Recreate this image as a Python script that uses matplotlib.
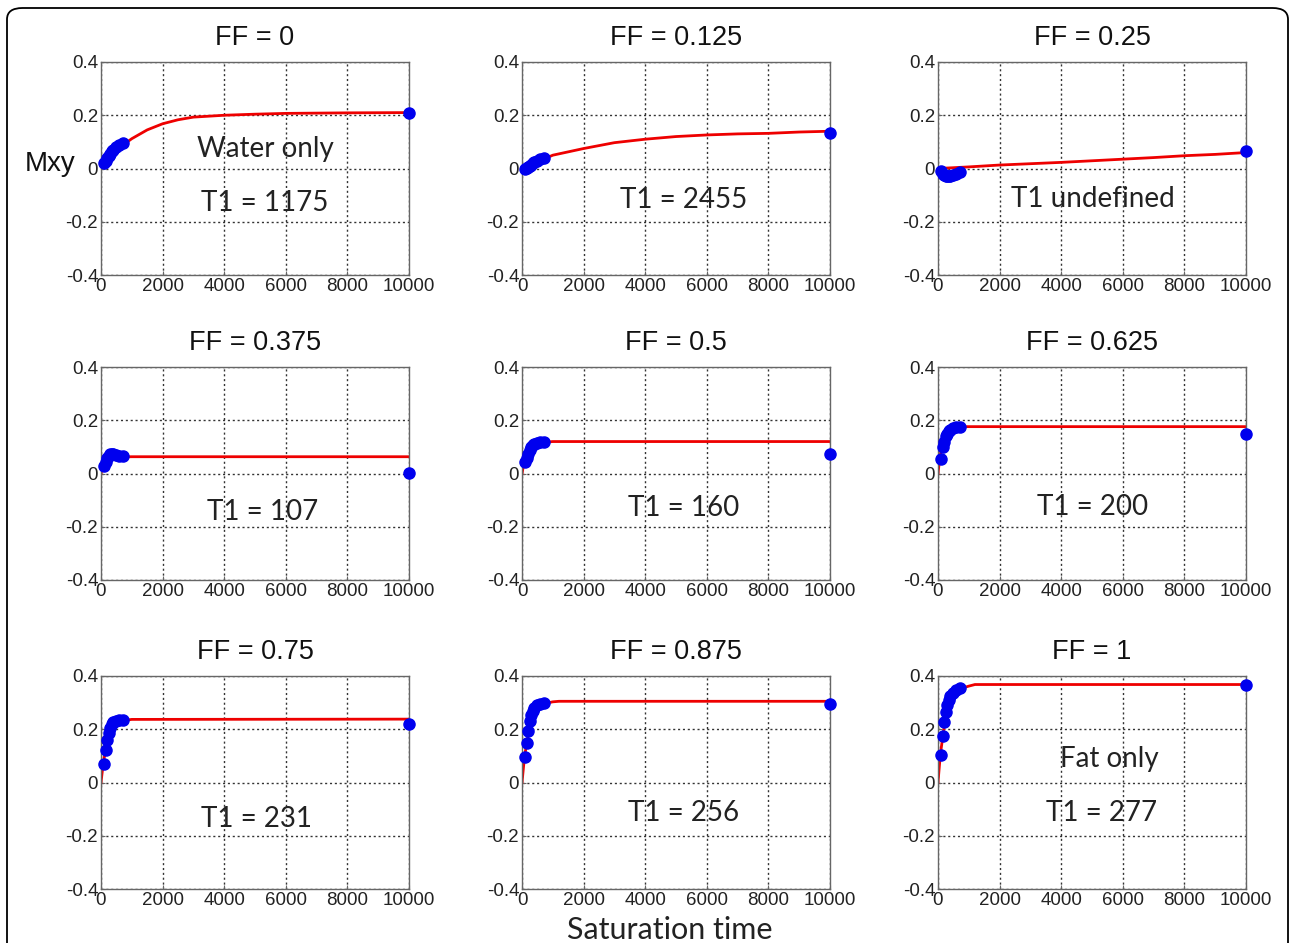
import matplotlib.pyplot as plt
from matplotlib.patches import FancyBboxPatch

# Panel titles and annotations
##############################
ff_titles = ['FF = 0', 'FF = 0.125', 'FF = 0.25',
             'FF = 0.375', 'FF = 0.5', 'FF = 0.625',
             'FF = 0.75', 'FF = 0.875', 'FF = 1']
t1_labels = ['T1 = 1175', 'T1 = 2455', 'T1 undefined',
             'T1 = 107', 'T1 = 160', 'T1 = 200',
             'T1 = 231', 'T1 = 256', 'T1 = 277']
extra_labels = {0: 'Water only', 8: 'Fat only'}

# Measured points (saturation times, then the long one at 10000)
################################################################
sat_times = [100, 150, 200, 250, 300, 350, 400, 500, 600, 700]
long_time = 10000

mxy_points = [
    [0.02, 0.03, 0.04, 0.048, 0.056, 0.064, 0.07, 0.08, 0.088, 0.095],
    [0.0, 0.002, 0.005, 0.01, 0.015, 0.02, 0.025, 0.03, 0.035, 0.04],
    [-0.01, -0.02, -0.025, -0.028, -0.03, -0.03, -0.028, -0.025, -0.022, -0.015],
    [0.03, 0.045, 0.057, 0.066, 0.072, 0.075, 0.074, 0.071, 0.067, 0.065],
    [0.045, 0.06, 0.075, 0.088, 0.098, 0.106, 0.112, 0.116, 0.119, 0.12],
    [0.055, 0.1, 0.12, 0.14, 0.15, 0.158, 0.165, 0.17, 0.174, 0.176],
    [0.071, 0.122, 0.16, 0.187, 0.206, 0.218, 0.226, 0.232, 0.235, 0.236],
    [0.095, 0.148, 0.195, 0.23, 0.255, 0.27, 0.28, 0.29, 0.296, 0.3],
    [0.105, 0.175, 0.228, 0.266, 0.29, 0.31, 0.325, 0.338, 0.348, 0.355],
]
mxy_long = [0.21, 0.134, 0.065, 0.003, 0.075, 0.147, 0.218, 0.296, 0.368]

# Fitted curves
#####################################
fit_x = [
    [0, 500, 1000, 1500, 2000, 2500, 3000, 4000, 5000, 6000, 8000, 10000],
    [0, 1000, 2000, 3000, 4000, 5000, 6000, 7000, 8000, 9000, 10000],
    [0, 1000, 2000, 3000, 4000, 5000, 6000, 7000, 8000, 9000, 10000],
    [0, 50, 100, 200, 300, 500, 1000, 10000],
    [0, 50, 100, 200, 300, 400, 600, 1000, 10000],
    [0, 50, 100, 200, 300, 400, 600, 800, 1000, 10000],
    [0, 50, 100, 200, 300, 400, 600, 800, 1000, 10000],
    [0, 50, 100, 200, 300, 400, 600, 800, 1000, 1200, 10000],
    [0, 50, 100, 200, 300, 400, 600, 800, 1000, 1200, 10000],
]
fit_y = [
    [0, 0.07, 0.112, 0.145, 0.168, 0.183, 0.193, 0.2, 0.204, 0.207, 0.209, 0.21],
    [0, 0.05, 0.075, 0.097, 0.11, 0.12, 0.126, 0.13, 0.132, 0.137, 0.14],
    [0, 0.006, 0.013, 0.018, 0.023, 0.029, 0.035, 0.041, 0.048, 0.053, 0.06],
    [0, 0.025, 0.04, 0.053, 0.059, 0.062, 0.063, 0.063],
    [0, 0.03, 0.055, 0.085, 0.1, 0.108, 0.116, 0.12, 0.12],
    [0, 0.05, 0.085, 0.13, 0.155, 0.165, 0.173, 0.176, 0.176, 0.176],
    [0, 0.05, 0.09, 0.15, 0.185, 0.205, 0.226, 0.234, 0.237, 0.238],
    [0, 0.06, 0.11, 0.18, 0.225, 0.255, 0.285, 0.298, 0.303, 0.305, 0.305],
    [0, 0.07, 0.125, 0.21, 0.26, 0.295, 0.335, 0.355, 0.362, 0.368, 0.368],
]

# label positions in data units
label_pos = [(5300, -0.13), (5260, -0.119), (5016, -0.114),
             (5240, -0.144), (5260, -0.128), (5016, -0.124),
             (5050, -0.136), (5260, -0.113), (5300, -0.116)]
extra_pos = {0: (5340, 0.075), 8: (5570, 0.089)}

x_ticks = [0, 2000, 4000, 6000, 8000, 10000]
y_ticks = [-0.4, -0.2, 0, 0.2, 0.4]
y_ticklabels = ['-0.4', '-0.2', '0', '0.2', '0.4']

# Figure layout (pixels)
########################
W, H = 1292, 943
col_left = [101, 522, 938]
row_top = [62, 367, 676]
ax_w, ax_h = 308, 213

fig = plt.figure(figsize=(W / 100, H / 100), dpi=100)

frame = FancyBboxPatch((7 / W, -20 / H), 1281 / W, (H - 8 + 20) / H,
                       boxstyle='round,pad=0,rounding_size=0.012',
                       transform=fig.transFigure, fill=False,
                       edgecolor='black', linewidth=1.3)
fig.patches.append(frame)

text_font = ['Lato', 'DejaVu Sans']
axis_font = ['Liberation Sans', 'DejaVu Sans']

for i in range(9):
    r, c = divmod(i, 3)
    left = col_left[c] / W
    bottom = 1 - (row_top[r] + ax_h) / H
    ax = fig.add_axes([left, bottom, ax_w / W, ax_h / H])

    ax.plot(fit_x[i], fit_y[i], color='#ee0000', linewidth=2, zorder=2)
    ax.plot(sat_times + [long_time], mxy_points[i] + [mxy_long[i]], 'o',
            color='#0000ee', markersize=8, clip_on=False, zorder=3)

    ax.set_xlim(0, 10000)
    ax.set_ylim(-0.4, 0.4)
    ax.set_xticks(x_ticks)
    ax.set_xticklabels([str(t) for t in x_ticks])
    ax.set_yticks(y_ticks)
    ax.set_yticklabels(y_ticklabels)
    ax.grid(True, linestyle=(0, (1.5, 2)), color='#333333', linewidth=1)
    ax.tick_params(direction='in', length=3, labelsize=13.5,
                   labelcolor='#222222', color='#666666', pad=2)
    for lab in ax.get_xticklabels() + ax.get_yticklabels():
        lab.set_family(axis_font)
    for sp in ax.spines.values():
        sp.set_color('#666666')
        sp.set_linewidth(1)

    ax.set_title(ff_titles[i], fontsize=19.5, family=axis_font,
                 color='#111111', pad=12)

    lx, ly = label_pos[i]
    ax.text(lx, ly, t1_labels[i], ha='center', va='center', fontsize=20,
            family=text_font, color='#222222')
    if i in extra_labels:
        ex, ey = extra_pos[i]
        ax.text(ex, ey, extra_labels[i], ha='center', va='center',
                fontsize=20, family=text_font, color='#222222')

fig.text(50 / W, 1 - 164 / H, 'Mxy', ha='center', va='center',
         fontsize=20, family=axis_font, color='#111111')
fig.text(670 / W, 1 - 930 / H, 'Saturation time', ha='center', va='center',
         fontsize=22, family=text_font, color='#222222')

fig.savefig('out.png', dpi=100)
